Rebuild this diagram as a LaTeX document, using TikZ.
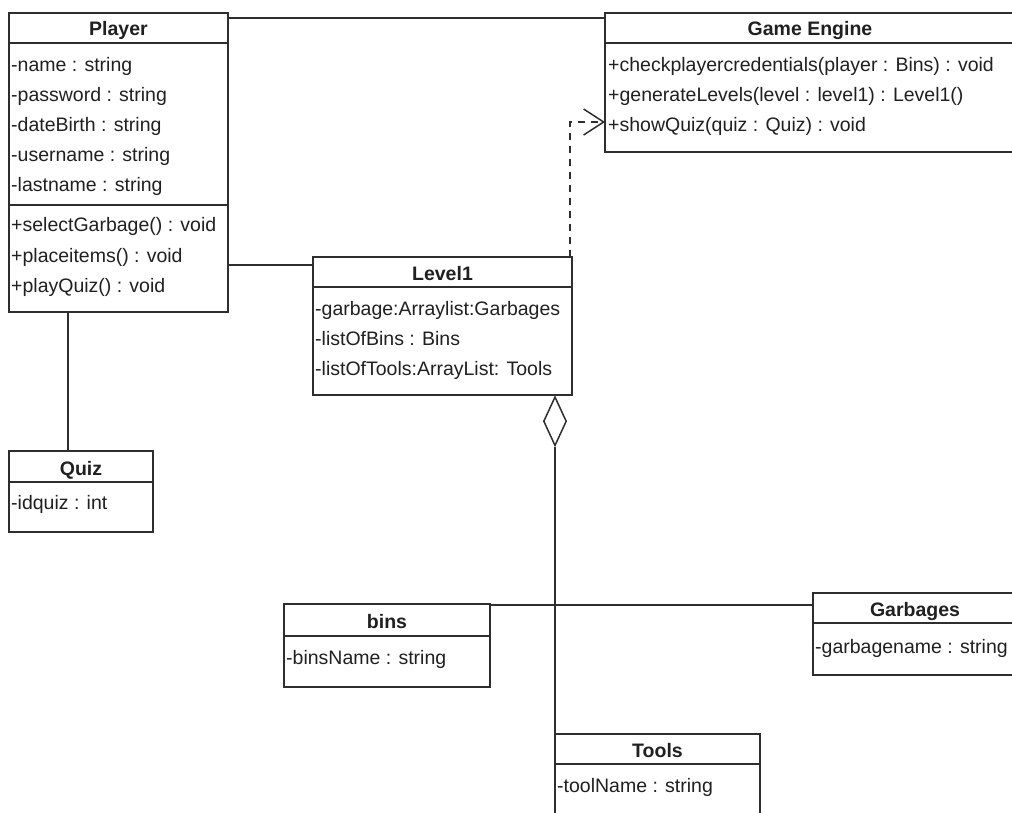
\documentclass[tikz,border=0pt]{standalone}
\usepackage{fontspec}
\setmainfont{Liberation Sans}
\usetikzlibrary{arrows.meta,shapes.geometric,calc}
\definecolor{linec}{HTML}{2E2E2E}
\definecolor{textc}{HTML}{202020}
\newcommand{\umlfs}{\fontsize{19.5}{23}\selectfont}
\begin{document}
\begin{tikzpicture}[x=1pt,y=-1pt,
  classbox/.style={draw=linec, line width=1.5, fill=white, anchor=north west,
    inner sep=0, outer sep=0},
  classtitle/.style={font=\umlfs\bfseries, text=textc, anchor=base, inner sep=0},
  member/.style={font=\umlfs, text=textc, anchor=base west, inner sep=0},
  rule/.style={draw=linec, line width=1.5},
  link/.style={draw=linec, line width=1.5},
  dep/.style={draw=linec, line width=1.5, dash pattern=on 7 off 6,
    -{Straight Barb[length=20,width=26,line width=1.5]}},
]
\useasboundingbox (0,0) rectangle (1012,813);
\clip (0,0) rectangle (1012,813);

% ---- class boxes ----
\node[classbox, minimum width=219, minimum height=299] (player) at (9,13) {};
\node[classbox, minimum width=410, minimum height=139] (engine) at (605,13) {};
\node[classbox, minimum width=259, minimum height=138] (level) at (313,257) {};
\node[classbox, minimum width=144, minimum height=81] (quiz) at (9,451) {};
\node[classbox, minimum width=206, minimum height=83] (bins) at (284,604) {};
\node[classbox, minimum width=204, minimum height=82] (garb) at (813,593) {};
\node[classbox, minimum width=205, minimum height=100] (tools) at (555,734) {};

% ---- compartment rules ----
\draw[rule] (9,43) -- (228,43);
\draw[rule] (9,205) -- (228,205);
\draw[rule] (605,43) -- (1015,43);
\draw[rule] (313,287) -- (572,287);
\draw[rule] (9,482) -- (153,482);
\draw[rule] (284,636) -- (490,636);
\draw[rule] (813,623) -- (1017,623);
\draw[rule] (555,764) -- (760,764);

% ---- Player ----
\node[classtitle] (playerT) at (118.5,36) {Player};
\node[member] (p1) at (11,72) {-name : string};
\node[member] (p2) at (11,102) {-password : string};
\node[member] (p3) at (11,132) {-dateBirth : string};
\node[member] (p4) at (11,162) {-username : string};
\node[member] (p5) at (11,192) {-lastname : string};
\node[member] (p6) at (11,232) {+selectGarbage() : void};
\node[member] (p7) at (11,262) {+placeitems() : void};
\node[member] (p8) at (11,292) {+playQuiz() : void};

% ---- Game Engine ----
\node[classtitle] (engineT) at (810,36) {Game Engine};
\node[member] (e1) at (608,72) {+checkplayercredentials(player : Bins) : void};
\node[member] (e2) at (608,102) {+generateLevels(level : level1) : Level1()};
\node[member] (e3) at (608,132) {+showQuiz(quiz : Quiz) : void};

% ---- Level1 ----
\node[classtitle] (levelT) at (442.5,280) {Level1};
\node[member] (l1) at (315,315) {-garbage:Arraylist:Garbages};
\node[member] (l2) at (315,345) {-listOfBins : Bins};
\node[member] (l3) at (315,375) {-listOfTools:ArrayList: Tools};

% ---- Quiz ----
\node[classtitle] (quizT) at (81,475) {Quiz};
\node[member] (q1) at (11,509) {-idquiz : int};

% ---- bins ----
\node[classtitle] (binsT) at (387,628) {bins};
\node[member] (b1) at (286,664) {-binsName : string};

% ---- Garbages ----
\node[classtitle] (garbT) at (915,616) {Garbages};
\node[member] (g1) at (815,653) {-garbagename : string};

% ---- Tools ----
\node[classtitle] (toolsT) at (657.5,757) {Tools};
\node[member] (t1) at (557,792) {-toolName : string};

% ---- connectors ----
\draw[link] (player.east |- 0,18) -- (engine.west |- 0,18);
\draw[link] (player.east |- 0,265) -- (level.west |- 0,265);
\draw[link] (player.south -| 68,0) -- (quiz.north -| 68,0);
\draw[dep] (level.north -| 570,0) -- (570,122) -- (engine.west |- 0,122);

% aggregation diamond below Level1
\node[diamond, draw=linec, line width=1.5, fill=white, inner sep=0,
  minimum width=23, minimum height=49, anchor=north] (agg) at (555,396) {};
\draw[link] (agg.south) -- (tools.north west);
\draw[link] (bins.east |- 0,605) -- (garb.west |- 0,605);
\end{tikzpicture}
\end{document}
